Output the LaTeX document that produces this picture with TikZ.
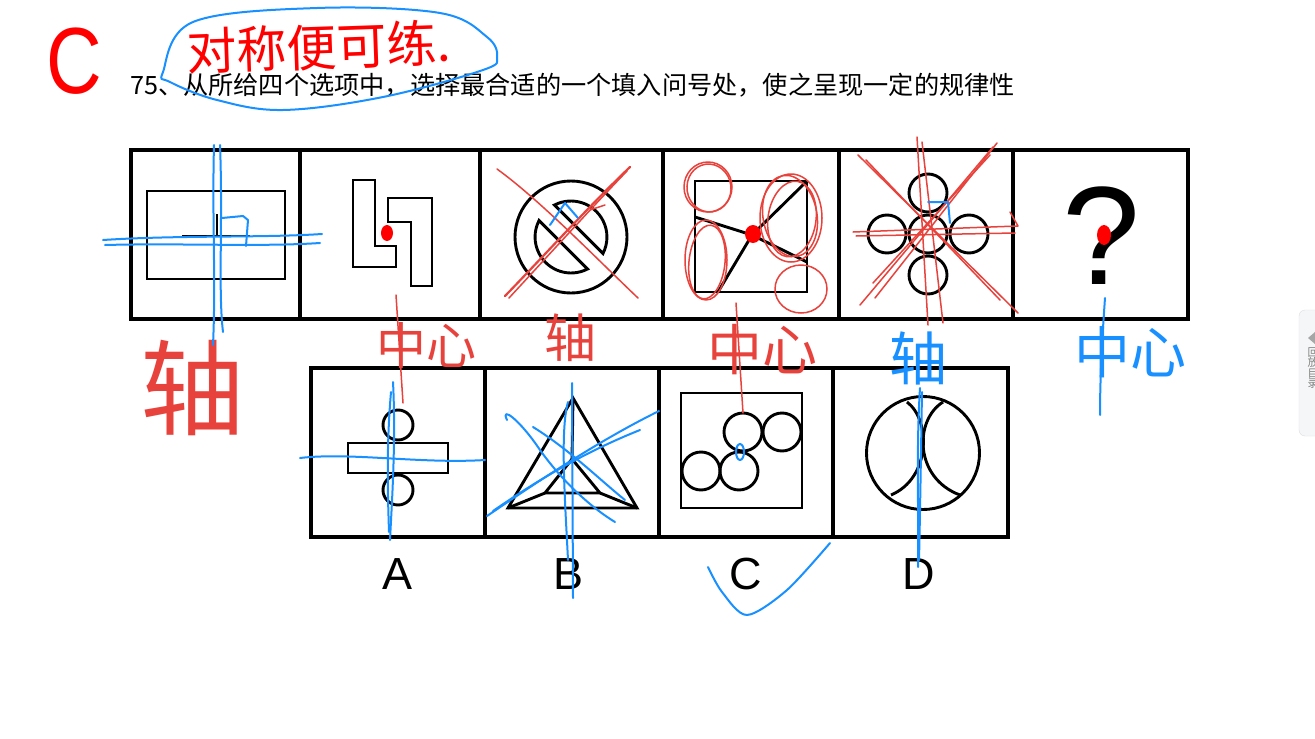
\documentclass[tikz,border=0pt]{standalone}
\usepackage{fontspec}
\setmainfont{Liberation Sans}
\newfontfamily\cjkfont{Noto Sans CJK SC}
\usetikzlibrary{calc}
\definecolor{markred}{RGB}{255,0,0}
\definecolor{inkred}{RGB}{232,66,60}
\definecolor{inkblue}{RGB}{24,144,255}
\definecolor{tabgray}{RGB}{245,246,248}

\begin{document}
\begin{tikzpicture}[x=1pt, y=-1pt,
    frame/.style={line width=3.2pt},
    fig/.style={line width=2.9pt},
    redink/.style={draw=inkred, line width=1.5pt, line cap=round, line join=round},
    blueink/.style={draw=inkblue, line width=2pt, line cap=round, line join=round},
    hand/.style={inner sep=0pt},
    optlabel/.style={font=\fontsize{45}{45}\selectfont, inner sep=0pt}
  ]
  \useasboundingbox (0,0) rectangle (1315,739);
  \fill[white] (0,0) rectangle (1315,739);

  % heading
  \node[text=markred, font=\fontsize{94}{94}\selectfont, xscale=0.82, inner sep=0pt] (answer) at (74,61) {C};
  \node[anchor=west, font=\cjkfont\fontsize{25.2}{26}\selectfont, inner sep=0pt] (question) at (130,85)
    {75、从所给四个选项中，选择最合适的一个填入问号处，使之呈现一定的规律性};

  % question row
  \draw[frame] (131,150) rectangle (1188,319);
  \foreach \x in {300,480,663,839,1013} \draw[frame] (\x,150) -- (\x,319);

  \draw[fig] (147,191) rectangle (285,279);
  \draw[fig] (182,236) -- (250,236) (217,236) -- (217,214);

  \draw[fig] (353,180) -- (375,180) -- (375,246) -- (396,246) -- (396,267) -- (353,267) -- cycle;
  \draw[fig] (388,198) -- (432,198) -- (432,286) -- (411,286) -- (411,222) -- (388,222) -- cycle;

  \draw[fig] (571,237) circle (56);
  \draw[fig] (587.5,269) arc[start angle=62.8, end angle=207.2, radius=36] -- cycle;
  \draw[fig] (554.5,205) arc[start angle=-117.2, end angle=27.2, radius=36] -- cycle;

  \draw[fig] (695,181) rectangle (807,292);
  \coordinate (hub) at (752,235);
  \draw[fig] (695,217) -- (hub) -- (807,181) (hub) -- (807,262) (hub) -- (718,292);

  \foreach \p in {(928,234),(928,193),(887,234),(969,234),(928,275)}
    \draw[fig] \p circle (19);

  \node[font=\fontsize{140}{140}\selectfont, inner sep=0pt] (qmark) at (1101,236) {?};

  % option row
  \draw[frame] (311,368) rectangle (1008,537);
  \foreach \x in {485,659,833} \draw[frame] (\x,368) -- (\x,537);

  \draw[fig] (348,443) rectangle (448,473);
  \draw[fig] (398,425) circle (15) (398,490) circle (15);

  \draw[fig, line join=miter] (573,398) -- (508,508) -- (637,508) -- cycle;
  \draw[fig] (572,459) -- (545,493) -- (600,493) -- cycle;
  \draw[fig] (508,508) -- (545,493) (637,508) -- (600,493) (573,398) -- (572,459);

  \draw[fig] (681,393) rectangle (802,508);
  \foreach \p in {(743,432),(782,432),(701,471),(739,471)}
    \draw[fig] \p circle (19);

  \draw[fig] (923,453) circle (56.5);
  \draw[fig] (907,402) .. controls (931,420) and (931,478) .. (891,495);
  \draw[fig] (943,402) .. controls (914,420) and (914,478) .. (960,495);

  \node[optlabel] (labA) at (398,574) {A};
  \node[optlabel] (labB) at (569,574) {B};
  \node[optlabel] (labC) at (746,574) {C};
  \node[optlabel] (labD) at (919,574) {D};

  % marks
  \fill[markred] (387,233) ellipse (6 and 8);
  \fill[markred] (753,234) ellipse (8 and 9);
  \fill[markred] (1104,235) ellipse (7 and 10);

  % handwriting
  \draw[blueink] plot[smooth cycle, tension=0.6] coordinates
    {(163,72) (193,22) (317,8) (440,13) (487,37) (497,57) (483,70) (383,97) (283,110) (217,100) (170,82)};
  \node[hand, text=markred, font=\cjkfont\fontsize{50}{50}\selectfont, rotate=2] (remark) at (319,47) {对称便可练.};

  \node[hand, text=inkred, font=\cjkfont\fontsize{104}{104}\selectfont] (axis1) at (192,388) {轴};
  \node[hand, text=inkred, font=\cjkfont\fontsize{50}{50}\selectfont] (centre2) at (426,345) {中心};
  \node[hand, text=inkred, font=\cjkfont\fontsize{52}{52}\selectfont] (axis3) at (570,338) {轴};
  \node[hand, text=inkred, font=\cjkfont\fontsize{55}{55}\selectfont] (centre4) at (762,350) {中心};
  \node[hand, text=inkblue, font=\cjkfont\fontsize{58}{58}\selectfont] (axis5) at (918,358) {轴};
  \node[hand, text=inkblue, font=\cjkfont\fontsize{56}{56}\selectfont] (centre6) at (1130,352) {中心};

  \draw[blueink] (214,145) .. controls (212,220) and (216,280) .. (213,345);
  \draw[blueink] (220,145) .. controls (223,220) and (218,290) .. (223,332);
  \draw[blueink] (103,240) .. controls (180,235) and (260,238) .. (322,234);
  \draw[blueink] (105,245) .. controls (180,243) and (260,247) .. (320,243);
  \draw[blueink] (222,218) -- (243,216) -- (248,220) -- (246,246);

  \draw[redink] (396,295) -- (403,403);

  \draw[redink] (497,169) .. controls (540,200) and (600,262) .. (638,298);
  \draw[redink, line width=2.2pt] (505,296) .. controls (540,260) and (590,205) .. (630,167);
  \draw[redink] (509,298) .. controls (546,258) and (596,203) .. (627,171);
  \draw[redink] (590,210) -- (605,205);
  \draw[blueink] (550,225) -- (565,203) -- (578,218);

  \draw[redink] (708,187) ellipse (24 and 25);
  \draw[redink, rotate around={8:(709,188)}] (709,188) ellipse (22 and 24);
  \draw[redink] (706,260) ellipse (21 and 40);
  \draw[redink, rotate around={-6:(707,262)}] (707,262) ellipse (18 and 37);
  \draw[redink] (791,218) ellipse (31 and 44);
  \draw[redink, rotate around={10:(790,216)}] (790,216) ellipse (27 and 41);
  \draw[redink, rotate around={-8:(792,219)}] (792,219) ellipse (24 and 38);
  \draw[redink] (801,289) ellipse (26 and 24);
  \draw[redink] (736,303) -- (743,413);

  \draw[redink] (917,137) -- (928,325);
  \draw[redink] (922,142) -- (943,323);
  \draw[redink] (858,155) -- (1018,313);
  \draw[redink] (866,160) -- (1000,300);
  \draw[redink] (993,147) -- (860,305);
  \draw[redink] (997,143) -- (875,298);
  \draw[redink] (853,232) -- (1018,226) -- (1010,212);
  \draw[redink] (856,236) -- (1015,233);
  \draw[redink] (873,283) -- (990,155);
  \draw[blueink] (928,202) -- (948,202) -- (950,223);

  \draw[blueink] (393,382) .. controls (396,440) and (392,500) .. (390,540);
  \draw[blueink] (391,392) .. controls (386,450) and (388,500) .. (389,532);
  \draw[blueink] (300,458) .. controls (350,452) and (420,464) .. (485,460);

  \draw[blueink] (572,383) -- (573,598);
  \draw[blueink] (568,402) .. controls (560,430) and (565,500) .. (568,560);
  \draw[blueink] (487,516) .. controls (540,480) and (600,440) .. (659,411);
  \draw[blueink] (493,511) .. controls (545,475) and (590,450) .. (640,430);
  \draw[blueink] (507,420) .. controls (500,405) and (520,420) .. (540,450) .. controls (565,485) and (595,510) .. (615,522);
  \draw[blueink] (533,427) .. controls (570,450) and (600,480) .. (625,500);

  \draw[blueink] (740,452) ellipse (4 and 8);
  \draw[blueink] plot[smooth] coordinates {(708,567) (722,592) (747,615) (787,590) (830,543)};

  \draw[blueink] (920,388) .. controls (916,450) and (919,520) .. (918,567);
  \draw[blueink] (922,392) .. controls (921,450) and (920,520) .. (919,560);

  \draw[blueink] (1105,298) .. controls (1102,340) and (1100,380) .. (1100,415);

  % side tab
  \draw[fill=tabgray, draw=gray!25, rounded corners=6pt] (1299,310) rectangle (1335,436);
  \fill[gray!70] (1308,338) -- (1315,332) -- (1315,344) -- cycle;
  \node[font=\cjkfont\fontsize{11}{10.5}\selectfont, text=gray, align=center, inner sep=0pt] (tabtext) at (1313,368) {回\\放\\目\\录};
\end{tikzpicture}
\end{document}
